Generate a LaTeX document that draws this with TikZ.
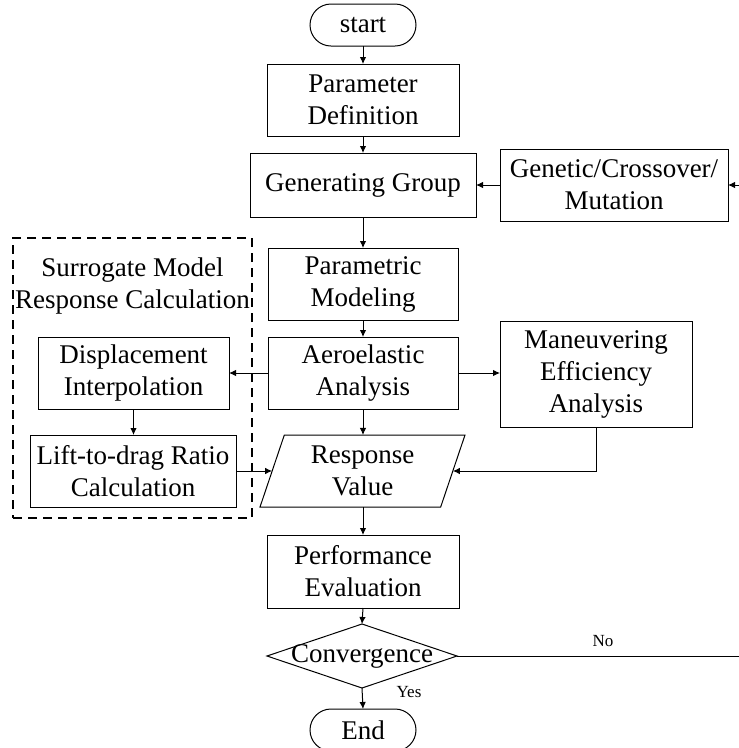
\documentclass[tikz,border=0pt]{standalone}
\usepackage{fontspec}
\setmainfont{Liberation Serif}
\usetikzlibrary{shapes.geometric,arrows.meta}
\begin{document}
\begin{tikzpicture}[x=1pt,y=-1pt,
  every node/.style={outer sep=0pt},
  txt/.style={font=\fontsize{27}{32}\selectfont, align=center},
  small/.style={font=\fontsize{17}{20}\selectfont},
  proc/.style={txt, draw, line width=1pt, inner sep=0pt},
  term/.style={proc, minimum width=106, minimum height=42, rounded corners=21},
  dashbox/.style={draw, line width=2pt, dash pattern=on 9pt off 6pt},
  arr/.style={line width=1pt, -{Latex[length=7pt,width=6.5pt]}},
  conn/.style={line width=1pt}
]
\useasboundingbox (0,0) rectangle (739,748);

\node[term] (start) at (363,25) {start};
\node[proc, minimum width=192, minimum height=72] (param) at (363,100) {Parameter\\Definition};
\node[proc, minimum width=226, minimum height=64] (gen) at (363,185) {Generating Group};
\node[proc, minimum width=228, minimum height=72] (gene) at (614,185) {Genetic/Crossover/\\Mutation};
\node[proc, minimum width=190, minimum height=72] (pm) at (363,284) {Parametric\\Modeling};
\node[proc, minimum width=190, minimum height=72] (aero) at (363,373) {Aeroelastic\\Analysis};
\node[proc, minimum width=192, minimum height=106] (man) at (596,374) {Maneuvering\\Efficiency\\Analysis};

\node[dashbox, minimum width=239, minimum height=280, inner sep=0pt] (sur) at (132.5,378) {};
\node[txt] (surt) at (132.5,286) {Surrogate Model\\Response Calculation};
\node[proc, minimum width=191, minimum height=72] (disp) at (133.5,373) {Displacement\\Interpolation};
\node[proc, minimum width=206, minimum height=72] (lift) at (133,471) {Lift-to-drag Ratio\\Calculation};

\node[proc, trapezium, trapezium left angle=64.1, trapezium right angle=115.9,
      trapezium stretches body, minimum width=205, minimum height=72] (resp) at (362.5,471) {Response\\Value};
\node[proc, minimum width=192, minimum height=73] (perf) at (363,571.5) {Performance\\Evaluation};
\node[draw, line width=1pt, diamond, minimum width=190, minimum height=64, inner sep=0pt] (conv) at (362,656) {};
\node[txt] (convt) at (conv.center) {Convergence};
\node[term] (end) at (363,730) {End};

\coordinate (rin) at (739,185);
\coordinate (rout) at (739,656);

\draw[arr] (start.south) -- (param.north);
\draw[arr] (param.south) -- (gen.north);
\draw[arr] (gene.west) -- (gen.east);
\draw[arr] (rin) -- (gene.east);
\draw[arr] (gen.south) -- (pm.north);
\draw[arr] (pm.south) -- (aero.north);
\draw[arr] (aero.east) -- (aero.east -| man.west);
\draw[arr] (aero.west) -- (disp.east);
\draw[arr] (disp.south) -- (disp.south |- lift.north);
\draw[arr] (lift.east) -- (resp.left side);
\draw[arr] (man.south) |- (resp.right side);
\draw[arr] (aero.south) -- (aero.south |- resp.north);
\draw[arr] (perf.north |- resp.south) -- (perf.north);
\draw[arr] (perf.south) -- (conv.north);
\draw[arr] (conv.south) -- (end.north);
\draw[conn] (conv.east) -- (rout);

\node[small] (no) at (603,641) {No};
\node[small] (yes) at (409,692) {Yes};
\end{tikzpicture}
\end{document}
